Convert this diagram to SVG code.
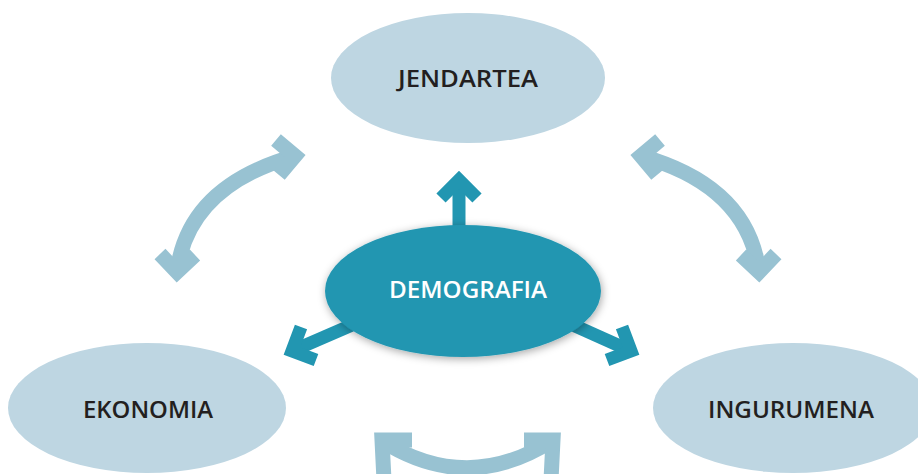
<svg xmlns="http://www.w3.org/2000/svg" width="918" height="474" viewBox="0 0 918 474">
<defs>
<filter id="sh" x="-20%" y="-30%" width="140%" height="160%">
<feDropShadow dx="1" dy="2" stdDeviation="4" flood-color="#000" flood-opacity="0.35"/>
</filter>
</defs>
<style>
.light{fill:#bed6e2}
.lbl{font-family:"Open Sans","Noto Sans",sans-serif;font-weight:600;font-size:23px;fill:#231f20;text-anchor:middle}
.wlbl{fill:#ffffff}
.ca{fill:none;stroke:#98c2d2;stroke-width:15;stroke-linejoin:miter}
.ta{fill:none;stroke:#2296b1;stroke-width:13;stroke-linejoin:miter}
</style>
<rect width="918" height="474" fill="#ffffff"/>
<g id="connectors">
<path class="ca" d="M177 272 Q188 186 295 156"/>
<polyline class="ca" points="276,140 295,156 279,175"/>
<polyline class="ca" points="160,254 177,272 195,255"/>
<path class="ca" d="M759 272 Q748 186 641 156"/>
<polyline class="ca" points="660,140 641,156 657,175"/>
<polyline class="ca" points="776,254 759,272 741,255"/>
<path class="ca" d="M382 441 Q468 495 553 440"/>
<polyline class="ca" points="412,440 382,440 384,480"/>
<polyline class="ca" points="524,440 553,440 551,480"/>
<line class="ta" x1="459" y1="240" x2="459" y2="180"/>
<polyline class="ta" points="441,198 459,180 477,198"/>
<line class="ta" x1="352" y1="325" x2="292" y2="351"/>
<polyline class="ta" points="301,327 292,351 316,360"/>
<line class="ta" x1="573" y1="325" x2="631" y2="351"/>
<polyline class="ta" points="622,327 631,351 607,360"/>
</g>
<g id="jendartea">
<ellipse class="light" cx="468" cy="78" rx="137" ry="65"/>
<text class="lbl" x="468" y="87" font-size="25" textLength="140" lengthAdjust="spacingAndGlyphs">JENDARTEA</text>
</g>
<g id="ekonomia">
<ellipse class="light" cx="147" cy="408" rx="139" ry="65"/>
<text class="lbl" x="148" y="418" textLength="130" lengthAdjust="spacingAndGlyphs">EKONOMIA</text>
</g>
<g id="ingurumena">
<ellipse class="light" cx="793" cy="408" rx="140" ry="65"/>
<text class="lbl" x="791" y="418" textLength="166" lengthAdjust="spacingAndGlyphs">INGURUMENA</text>
</g>
<g id="demografia">
<ellipse cx="463" cy="291" rx="138" ry="66" fill="#2296b1" filter="url(#sh)"/>
<text class="lbl wlbl" x="468" y="298" textLength="158" lengthAdjust="spacingAndGlyphs">DEMOGRAFIA</text>
</g>
</svg>
